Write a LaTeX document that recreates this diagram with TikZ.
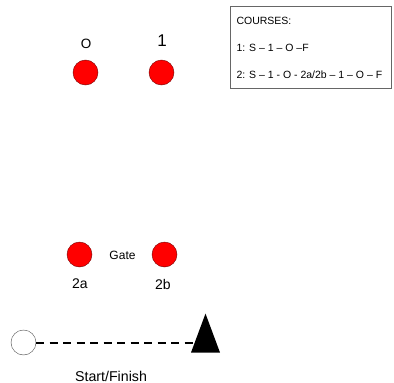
\documentclass[tikz,border=0pt]{standalone}
\usepackage{fontspec}
\setmainfont{Liberation Sans}
\usetikzlibrary{shapes.geometric}

\begin{document}
\begin{tikzpicture}[x=1pt,y=-1pt,every node/.style={font=\fontsize{12}{14}\selectfont}]
  \tikzset{buoy/.style={circle,draw=red!45!black,fill=red,minimum size=25pt,inner sep=0pt},
           lbl/.style={font=\fontsize{14}{17}\selectfont},
           row/.style={anchor=west,font=\fontsize{10.5}{12}\selectfont}}
  \useasboundingbox (0,0) rectangle (394,383);
  % marks
  \node[buoy] (o) at (85.5,72.5) {};
  \node[buoy] (one) at (161.5,72.5) {};
  \node[buoy] (ga) at (79.5,254.5) {};
  \node[buoy] (gb) at (164.5,254.5) {};
  \node[lbl,font=\fontsize{13.5}{16}\selectfont] (lo) at (86,43.5) {O};
  \node[lbl,font=\fontsize{17}{20}\selectfont] (lone) at (162,41) {1};
  \node[lbl] (lga) at (80,284) {2a};
  \node[lbl] (lgb) at (163,284) {2b};
  \node (gate) at (122.5,255) {Gate};
  % start line
  \node[circle,draw=black!70,minimum size=25pt,inner sep=0pt] (st) at (23.5,342.5) {};
  \node[isosceles triangle,shape border rotate=90,isosceles triangle stretches,
        fill=black,minimum width=29pt,minimum height=39pt,inner sep=0pt] (fin) at (205.5,342.5) {};
  \draw[line width=2pt,dash pattern=on 8pt off 5.5pt] (st) -- (fin);
  \node[font=\fontsize{14.2}{17}\selectfont,inner sep=0pt] (sf) at (111,376) {Start/Finish};
  % courses
  \node[draw=black!60,minimum width=161pt,minimum height=82pt,inner sep=0pt] (box) at (310.5,47) {};
  \node[row] (c0) at (233,21) {COURSES:};
  \node[row] (c1) at (233,48) {1: S -- 1 -- O --F};
  \node[row] (c2) at (233,75) {2: S -- 1 - O - 2a/2b -- 1 -- O -- F};
\end{tikzpicture}
\end{document}
